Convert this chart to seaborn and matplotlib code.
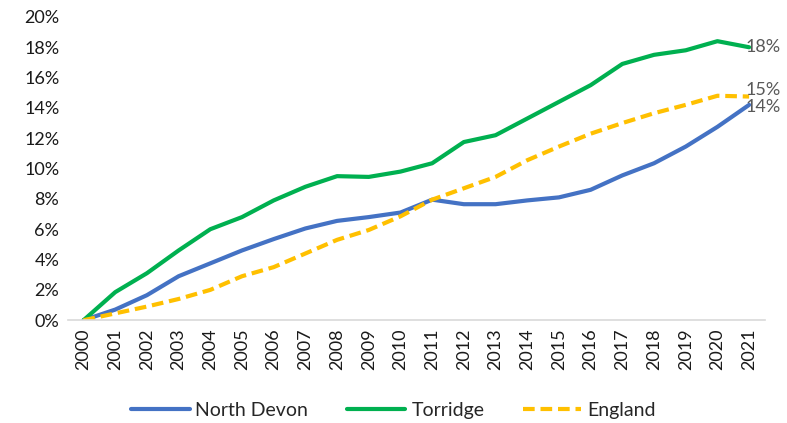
import matplotlib.pyplot as plt
import seaborn as sns
import pandas as pd
from matplotlib.ticker import PercentFormatter
from matplotlib.lines import Line2D

years = list(range(2000, 2022))
north_devon = [0.0, 0.7, 1.65, 2.9, 3.75, 4.6, 5.35, 6.05, 6.55, 6.8, 7.1,
               7.95, 7.65, 7.65, 7.9, 8.1, 8.6, 9.55, 10.35, 11.45, 12.75, 14.2]
torridge = [0.0, 1.85, 3.1, 4.6, 6.0, 6.8, 7.9, 8.8, 9.5, 9.45, 9.8,
            10.35, 11.75, 12.2, 13.3, 14.4, 15.5, 16.9, 17.5, 17.8, 18.4, 18.0]
england = [0.0, 0.45, 0.9, 1.4, 2.0, 2.9, 3.5, 4.4, 5.3, 5.95, 6.85,
           7.95, 8.7, 9.45, 10.55, 11.45, 12.3, 13.0, 13.65, 14.2, 14.8, 14.75]
series_names = ['North Devon', 'Torridge', 'England']
end_labels = ['14%', '18%', '15%']
label_nudge = [-0.15, 0.0, 0.45]

df = pd.DataFrame({'Year': years * 3,
                   'Value': north_devon + torridge + england,
                   'Area': [n for n in series_names for _ in years]})

sns.set_theme(style='white')
plt.rcParams['font.family'] = ['Lato', 'DejaVu Sans']

fig = plt.figure(figsize=(7.87, 4.23), dpi=100)
ax = fig.add_axes([0.086, 0.243, 0.886, 0.717])

palette = {'North Devon': '#4472C4', 'Torridge': '#00B050', 'England': '#FFC000'}
sns.lineplot(data=df, x='Year', y='Value', hue='Area', style='Area',
             palette=palette, dashes={'North Devon': '', 'Torridge': '', 'England': (2.8, 1.4)},
             linewidth=3, ax=ax, legend=False)

# end-of-line value labels
for vals, lab, nudge in zip([north_devon, torridge, england], end_labels, label_nudge):
    ax.text(years[-1] - 0.1, vals[-1] + nudge, lab, fontsize=13, color='#595959',
            ha='left', va='center')

ax.set_xlim(years[0] - 0.5, years[-1] + 0.5)
ax.set_ylim(0, 20)
ax.set_yticks(range(0, 21, 2))
ax.yaxis.set_major_formatter(PercentFormatter(decimals=0))
ax.set_xticks(years)
ax.set_xticklabels([str(y) for y in years], rotation=90)
ax.tick_params(axis='both', labelsize=13, colors='#1a1a1a', length=0, pad=6)
ax.set_xlabel('')
ax.set_ylabel('')
for s in ['top', 'right', 'left']:
    ax.spines[s].set_visible(False)
ax.spines['bottom'].set_color('#D9D9D9')
ax.spines['bottom'].set_linewidth(1.2)

handles = [Line2D([], [], color='#4472C4', lw=3),
           Line2D([], [], color='#00B050', lw=3),
           Line2D([], [], color='#FFC000', lw=3, dashes=(2.8, 1.4))]
fig.legend(handles, series_names, loc='center', bbox_to_anchor=(0.5, 0.03),
           ncol=3, frameon=False, fontsize=14, handlelength=3.0,
           handletextpad=0.3, columnspacing=2.0)

fig.savefig('out.png', dpi=100)
